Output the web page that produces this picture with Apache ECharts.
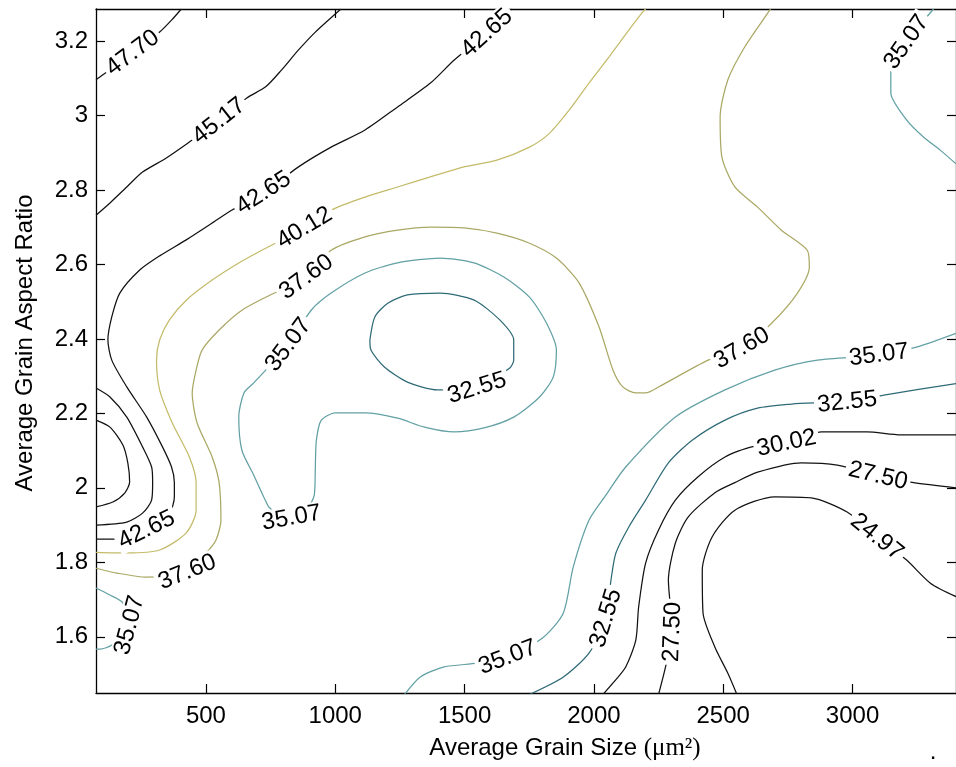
<!DOCTYPE html>
<html>
<head>
<meta charset="utf-8">
<script src="https://cdn.jsdelivr.net/npm/echarts@6/dist/echarts.min.js"></script>
<style>
  html, body { margin: 0; padding: 0; background: #fff; }
  #chart { width: 956px; height: 767px; }
</style>
</head>
<body>
<div id="chart"></div>
<script>
// ---- axis ticks ----
const xTicks = [500, 1000, 1500, 2000, 2500, 3000];
const yTicks = [1.6, 1.8, 2.0, 2.2, 2.4, 2.6, 2.8, 3.0, 3.2];

// ---- contour lines: [average grain size (um^2), average grain aspect ratio] ----
const line4770top = [[75,3.096],[117,3.117],[217,3.168],[321,3.224],[367,3.256],[405,3.286]];
const line4770left = [[75,2.182],[129,2.163],[179,2.115],[198,2.067],[205,2.016],[186,1.986],[140,1.962],[75,1.949]];
const line4517top = [[75,2.732],[129,2.765],[194,2.808],[255,2.848],[347,2.886],[447,2.934],[551,2.985],[658,3.047],[731,3.077],[792,3.122],[858,3.176],[923,3.224],[1022,3.286]];
const line4517left = [[75,2.268],[129,2.244],[194,2.190],[255,2.110],[290,2.056],[294,2.014],[290,1.967],[255,1.932],[194,1.908],[75,1.900]];
const line4265 = [[75,1.862],[156,1.862],[271,1.887],[359,1.932],[378,1.976],[378,2.014],[367,2.056],[332,2.110],[271,2.190],[194,2.271],[136,2.343],[121,2.397],[136,2.459],[167,2.523],[244,2.585],[321,2.623],[424,2.666],[524,2.711],[601,2.746],[723,2.792],[858,2.862],[984,2.915],[1115,2.961],[1241,3.023],[1368,3.087],[1460,3.149],[1586,3.221],[1682,3.286]];
const line4012 = [[75,1.827],[194,1.825],[321,1.833],[424,1.879],[462,1.940],[462,2.014],[436,2.083],[370,2.174],[321,2.263],[309,2.343],[321,2.397],[359,2.451],[424,2.504],[524,2.558],[627,2.604],[716,2.638],[769,2.657],[881,2.698],[984,2.746],[1115,2.781],[1241,2.808],[1368,2.835],[1498,2.862],[1625,2.880],[1751,2.915],[1828,2.952],[1905,3.015],[1981,3.087],[2058,3.157],[2135,3.229],[2189,3.278],[2200,3.286]];
const line3760 = [[75,1.784],[156,1.771],[271,1.760],[428,1.774],[501,1.825],[539,1.860],[558,1.913],[551,2.014],[524,2.083],[466,2.174],[447,2.255],[462,2.316],[485,2.370],[551,2.424],[639,2.477],[731,2.512],[888,2.566],[984,2.638],[1115,2.674],[1241,2.692],[1368,2.700],[1498,2.698],[1625,2.684],[1751,2.657],[1855,2.617],[1943,2.550],[2020,2.432],[2074,2.316],[2112,2.271],[2162,2.255],[2200,2.255],[2250,2.271],[2442,2.343],[2572,2.375],[2687,2.442],[2787,2.523],[2833,2.593],[2825,2.638],[2725,2.692],[2633,2.754],[2545,2.808],[2495,2.888],[2488,2.996],[2518,3.096],[2583,3.184],[2672,3.275],[2683,3.286]];
const line3507loop = [[742,1.949],[723,1.976],[685,2.034],[639,2.101],[627,2.190],[647,2.255],[685,2.282],[731,2.316],[819,2.384],[907,2.477],[984,2.523],[1115,2.577],[1241,2.604],[1406,2.617],[1537,2.604],[1652,2.566],[1751,2.512],[1817,2.442],[1855,2.370],[1843,2.298],[1790,2.244],[1690,2.190],[1575,2.161],[1460,2.150],[1345,2.163],[1241,2.187],[1115,2.201],[1000,2.201],[946,2.182],[927,2.128],[923,2.056],[919,1.981],[888,1.940],[831,1.919],[781,1.927],[742,1.949]];
const line3507left = [[75,1.731],[129,1.712],[179,1.691],[205,1.631],[136,1.578],[90,1.567],[75,1.567]];
const line3507top = [[3313,3.286],[3209,3.197],[3148,3.122],[3148,3.061],[3209,2.988],[3274,2.942],[3339,2.907],[3400,2.870]];
const line3507right = [[1268,1.445],[1329,1.492],[1421,1.519],[1548,1.529],[1667,1.545],[1805,1.599],[1882,1.664],[1920,1.787],[1981,1.913],[2047,1.981],[2123,2.056],[2315,2.190],[2507,2.263],[2699,2.316],[2864,2.343],[3102,2.357],[3247,2.378],[3400,2.415]];
const line3255loop = [[1134,2.397],[1153,2.459],[1203,2.496],[1279,2.518],[1406,2.523],[1537,2.504],[1636,2.451],[1690,2.397],[1690,2.343],[1675,2.322],[1548,2.268],[1395,2.263],[1279,2.284],[1191,2.324],[1138,2.370],[1134,2.397]];
const line3255right = [[3400,2.280],[3121,2.249],[2979,2.230],[2852,2.228],[2764,2.225],[2633,2.214],[2507,2.182],[2380,2.128],[2288,2.067],[2200,1.967],[2135,1.895],[2085,1.825],[2066,1.752],[2047,1.650],[1981,1.556],[1882,1.492],[1751,1.445]];
const line3002 = [[3400,2.142],[3186,2.142],[3056,2.150],[2879,2.150],[2745,2.120],[2610,2.110],[2507,2.083],[2403,2.030],[2315,1.967],[2250,1.887],[2200,1.798],[2173,1.680],[2162,1.591],[2123,1.519],[2074,1.476],[2035,1.445]];
const line2750 = [[3400,2.000],[3236,2.014],[3098,2.032],[2941,2.061],[2802,2.067],[2633,2.042],[2545,2.014],[2468,1.987],[2365,1.922],[2315,1.852],[2288,1.752],[2304,1.613],[2277,1.519],[2250,1.445]];
const line2497 = [[2553,1.445],[2518,1.502],[2468,1.572],[2422,1.664],[2419,1.779],[2457,1.868],[2545,1.940],[2699,1.976],[2841,1.973],[2979,1.935],[3094,1.868],[3209,1.806],[3301,1.744],[3400,1.708]];

const contours = [
  ['47.70', line4770top], ['47.70', line4770left],
  ['45.17', line4517top], ['45.17', line4517left],
  ['42.65', line4265],
  ['40.12', line4012],
  ['37.60', line3760],
  ['35.07', line3507loop], ['35.07', line3507left], ['35.07', line3507top], ['35.07', line3507right],
  ['32.55', line3255loop], ['32.55', line3255right],
  ['30.02', line3002],
  ['27.50', line2750],
  ['24.97', line2497]
];

// ---- inline contour labels: [level, grain size, aspect ratio] ----
const labelSpots = [
  ['47.70', 217, 3.168],
  ['45.17', 551, 2.985],
  ['42.65', 271, 1.887], ['42.65', 723, 2.792], ['42.65', 1586, 3.221],
  ['40.12', 881, 2.698],
  ['37.60', 428, 1.774], ['37.60', 888, 2.566], ['37.60', 2572, 2.375],
  ['35.07', 819, 2.384], ['35.07', 831, 1.919], ['35.07', 205, 1.631],
  ['35.07', 3209, 3.197], ['35.07', 1667, 1.545], ['35.07', 3102, 2.357],
  ['32.55', 1548, 2.268], ['32.55', 2979, 2.230], ['32.55', 2047, 1.650],
  ['30.02', 2745, 2.120],
  ['27.50', 3098, 2.032], ['27.50', 2304, 1.613],
  ['24.97', 3094, 1.868]
];

// ---- styling ----
const SANS = 'Arial, "Liberation Sans", Helvetica, sans-serif';
const SERIF = '"Times New Roman", "Liberation Serif", serif';
const levelColor = {
  '47.70': '#121212', '45.17': '#121212', '42.65': '#121212',
  '40.12': '#c4bb6a', '37.60': '#aaa864',
  '35.07': '#62a0a4', '32.55': '#2f6b77',
  '30.02': '#121212', '27.50': '#121212', '24.97': '#121212'
};

const chart = echarts.init(document.getElementById('chart'), null, { renderer: 'canvas' });

const frameLine = { show: true, onZero: false, lineStyle: { color: '#000', width: 1.3 } };
const tickStyle = { show: true, inside: true, length: 9, lineStyle: { color: '#000', width: 1.2 } };

const lineSeries = contours.map(([lvl, pts]) => ({
  type: 'line',
  data: pts,
  xAxisIndex: 0,
  yAxisIndex: 0,
  showSymbol: false,
  symbol: 'none',
  smooth: 0.25,
  silent: true,
  clip: true,
  lineStyle: { color: levelColor[lvl], width: 1.25 },
  z: 2
}));

const labelText = {
  show: true,
  position: 'inside',
  formatter: p => p.name,
  fontSize: 24,
  fontFamily: SANS,
  color: '#000',
  opacity: 1,
  textBorderWidth: 0,
  textBorderColor: 'transparent',
  backgroundColor: '#fff',
  padding: [0, 3]
};

function labelSeries(rotations) {
  return {
    type: 'scatter',
    xAxisIndex: 0,
    yAxisIndex: 0,
    symbol: 'circle',
    symbolSize: 1,
    silent: true,
    itemStyle: { color: '#fff', opacity: 1 },
    data: labelSpots.map((s, i) => ({
      value: [s[1], s[2]],
      name: s[0],
      label: Object.assign({}, labelText, { rotate: rotations ? rotations[i] : 0 })
    })),
    label: labelText,
    z: 5
  };
}

const option = {
  backgroundColor: '#fff',
  animation: false,
  grid: { left: 96, top: 9, right: -7, bottom: 74, containLabel: false },
  xAxis: [
    {
      type: 'value', position: 'bottom', min: 75, max: 3400,
      axisLine: frameLine, splitLine: { show: false },
      axisTick: Object.assign({ customValues: xTicks }, tickStyle),
      axisLabel: {
        customValues: xTicks, fontSize: 24, fontFamily: SANS, color: '#000', margin: 11,
        formatter: v => String(v)
      }
    },
    {
      type: 'value', position: 'top', min: 75, max: 3400,
      axisLine: frameLine, splitLine: { show: false },
      axisTick: Object.assign({ customValues: xTicks }, tickStyle),
      axisLabel: { show: false }
    }
  ],
  yAxis: [
    {
      type: 'value', position: 'left', min: 1.449, max: 3.286,
      axisLine: frameLine, splitLine: { show: false },
      axisTick: Object.assign({ customValues: yTicks }, tickStyle),
      axisLabel: {
        customValues: yTicks, fontSize: 24, fontFamily: SANS, color: '#000', margin: 8,
        formatter: v => String(Math.round(v * 10) / 10)
      }
    },
    {
      type: 'value', position: 'right', min: 1.449, max: 3.286,
      axisLine: frameLine, splitLine: { show: false },
      axisTick: Object.assign({ customValues: yTicks }, tickStyle),
      axisLabel: { show: false }
    }
  ],
  graphic: [
    {
      type: 'text', x: 25, y: 343, rotation: Math.PI / 2,
      style: { text: 'Average Grain Aspect Ratio', fontSize: 24, fontFamily: SANS, fill: '#000', align: 'center', verticalAlign: 'middle' }
    },
    {
      type: 'text', x: 565, y: 748,
      style: {
        text: '{s|Average Grain Size }{m|(\u03bcm\u00b2)}',
        align: 'center', verticalAlign: 'middle', fill: '#000',
        rich: {
          s: { fontSize: 24, fontFamily: SANS, fill: '#000' },
          m: { fontSize: 25, fontFamily: SERIF, fill: '#000' }
        }
      }
    },
    {
      type: 'text', x: 933, y: 752,
      style: { text: '.', fontSize: 24, fontFamily: SANS, fill: '#000', align: 'center', verticalAlign: 'middle' }
    }
  ],
  series: lineSeries.concat([labelSeries(null)])
};

chart.setOption(option);

// Orient each inline label along its contour, kept upright.
function toPx(p) { return chart.convertToPixel({ seriesIndex: 0 }, p); }
function labelAngle(level, x, y) {
  const p0 = toPx([x, y]);
  let best = null, bd = Infinity;
  contours.forEach(([lvl, pts]) => {
    if (lvl !== level) return;
    pts.forEach((q, i) => {
      const pq = toPx(q);
      const d = (pq[0] - p0[0]) ** 2 + (pq[1] - p0[1]) ** 2;
      if (d < bd) { bd = d; best = { pts, i }; }
    });
  });
  if (!best) return 0;
  const a = toPx(best.pts[Math.max(0, best.i - 1)]);
  const b = toPx(best.pts[Math.min(best.pts.length - 1, best.i + 1)]);
  let ang = Math.atan2(-(b[1] - a[1]), b[0] - a[0]) * 180 / Math.PI;
  if (ang > 90) ang -= 180;
  if (ang < -90) ang += 180;
  return Math.round(ang);
}
const rotations = labelSpots.map(s => labelAngle(s[0], s[1], s[2]));
chart.setOption({ series: lineSeries.concat([labelSeries(rotations)]) });
</script>
</body>
</html>
